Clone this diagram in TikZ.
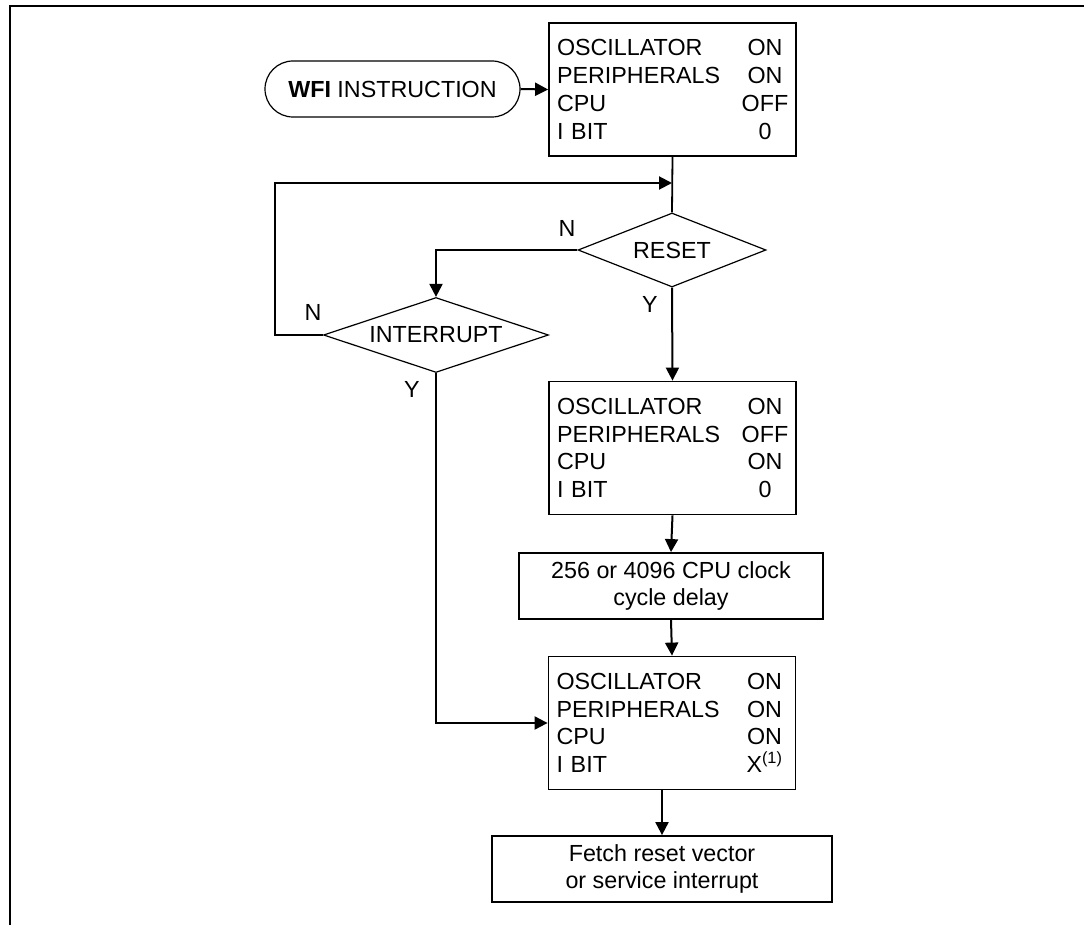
\documentclass[tikz,border=0pt]{standalone}
\usepackage{fontspec}
\setmainfont{Liberation Sans}
\usetikzlibrary{shapes.geometric,arrows.meta}
\newcommand\staterows[4]{%
\makebox[185pt][l]{OSCILLATOR}\makebox[46pt]{#1}\\
\makebox[185pt][l]{PERIPHERALS}\makebox[46pt]{#2}\\
\makebox[185pt][l]{CPU}\makebox[46pt]{#3}\\
\makebox[185pt][l]{I BIT}\makebox[46pt]{#4}}
\begin{document}
\begin{tikzpicture}[x=1pt,y=-1pt,
  every node/.style={font=\fontsize{23.3}{27.7}\selectfont},
  statebox/.style={draw,line width=1.8pt,minimum width=247pt,minimum height=133pt,inner sep=0pt,text width=231pt,align=left},
  plainbox/.style={draw,line width=1.8pt,inner sep=0pt,align=center},
  terminal/.style={draw,rounded corners=28pt,line width=1.2pt,inner sep=0pt},
  decision/.style={draw,diamond,line width=1.2pt,inner sep=0pt},
  flow/.style={line width=2pt,-{Triangle[length=13pt,width=13pt]}},
  link/.style={line width=1.8pt},
  lbl/.style={inner sep=0pt},
  frame/.style={line width=2.2pt}
]
\useasboundingbox (0,0) rectangle (1084,925);
% frame
\coordinate (fr) at (1090,6);
\coordinate (ftl) at (10,6);
\coordinate (fbl) at (10,930);
\draw[frame] (fr) -- (ftl) -- (fbl);

\node[terminal,minimum width=255pt,minimum height=56pt] (wfi) at (392.5,89) {\textbf{WFI} INSTRUCTION};
\node[statebox] (b1) at (672.5,89.5) {\staterows{ON}{ON}{OFF}{0}};
\node[decision,shape aspect=2.54,minimum width=188pt,minimum height=74pt] (reset) at (672,250) {RESET};
\node[decision,shape aspect=3,minimum width=225pt,minimum height=75pt] (int) at (436,335) {INTERRUPT};
\node[statebox] (b2) at (672.5,448) {\staterows{ON}{OFF}{ON}{0}};
\node[plainbox,minimum width=304pt,minimum height=66pt] (delay) at (671,586) {256 or 4096 CPU clock\\cycle delay};
\node[statebox] (b3) at (672,723) {\staterows{ON}{ON}{ON}{X\textsuperscript{(1)}}};
\node[plainbox,minimum width=340pt,minimum height=66pt] (fetch) at (662,869) {Fetch reset vector\\or service interrupt};

\node[lbl] (nr) at (567,228) {N};
\node[lbl] (yr) at (650,304) {Y};
\node[lbl] (ni) at (313,312) {N};
\node[lbl] (yi) at (412,389) {Y};

\coordinate (loopx) at (275,183);
\coordinate (loopin) at (672,183);

\draw[flow] (wfi.east) -- (b1.west);
\draw[link] (b1.south) -- (reset.north);
\draw[flow] (int.west) -| (loopx) -- (loopin);
\draw[flow] (reset.west) -| (int.north);
\draw[flow] (reset.south) -- (b2.north);
\draw[flow] (b2.south) -- (delay.north);
\draw[flow] (delay.south) -- (b3.north);
\draw[flow] (int.south) |- (b3.west);
\draw[flow] (fetch.north |- b3.south) -- (fetch.north);
\end{tikzpicture}
\end{document}
